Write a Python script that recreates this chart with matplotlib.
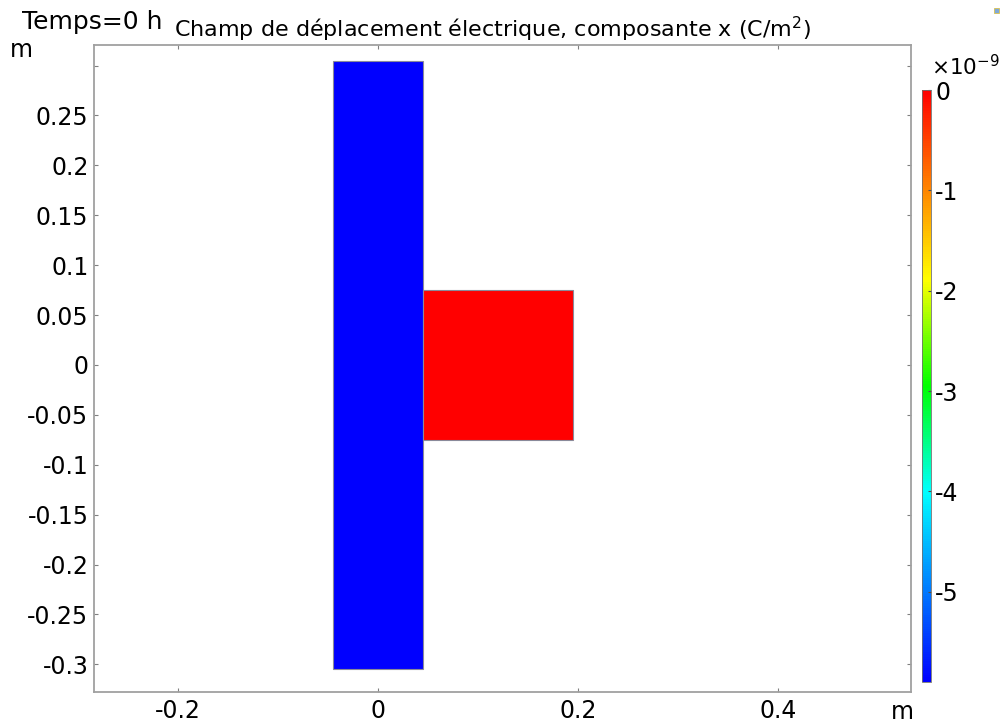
import matplotlib
matplotlib.use("Agg")
import matplotlib.pyplot as plt
import numpy as np
from matplotlib.patches import Rectangle
from matplotlib.colors import LinearSegmentedColormap, Normalize
from matplotlib.colorbar import ColorbarBase

plt.rcParams['font.family'] = 'DejaVu Sans'
plt.rcParams['mathtext.default'] = 'regular'

# domaines (x0, x1, y0, y1) en m et valeur de Dx en C/m^2
dom_names = ['bloc_gauche', 'bloc_droit']
dom_x0 = [-0.045, 0.045]
dom_x1 = [0.045, 0.195]
dom_y0 = [-0.305, -0.075]
dom_y1 = [0.305, 0.075]
dom_dx = [-5.9e-9, 0.0]

x_ticks = [-0.2, 0, 0.2, 0.4]
y_ticks = [-0.3, -0.25, -0.2, -0.15, -0.1, -0.05, 0, 0.05, 0.1, 0.15, 0.2, 0.25]
cb_ticks = [0, -1, -2, -3, -4, -5]

vmin, vmax = -5.9e-9, 0.0

# rainbow facon comsol
rainbow = LinearSegmentedColormap.from_list(
    'rainbow_comsol',
    [(0.0, (0, 0, 1)), (0.32, (0, 1, 1)), (0.5, (0, 1, 0)),
     (0.68, (1, 1, 0)), (0.84, (1, 0.5, 0)), (1.0, (1, 0, 0))])
norm = Normalize(vmin=vmin, vmax=vmax)

W, H = 1002, 724
fig = plt.figure(figsize=(W / 100, H / 100), dpi=100)

def fx(px):
    return px / W

def fy(py):
    return 1 - py / H

ax = fig.add_axes([fx(94), fy(692), fx(911) - fx(94), fy(45) - fy(692)])
ax.set_xlim(-0.284, 0.533)
ax.set_ylim(-0.3277, 0.3206)

for i in range(len(dom_names)):
    r = Rectangle((dom_x0[i], dom_y0[i]), dom_x1[i] - dom_x0[i], dom_y1[i] - dom_y0[i],
                  facecolor=rainbow(norm(dom_dx[i])), edgecolor='#8a8a9a', linewidth=0.8)
    ax.add_patch(r)

gray = '#a0a0a0'
for s in ax.spines.values():
    s.set_color(gray)
    s.set_linewidth(1.3)

ax.set_xticks(x_ticks)
ax.set_xticklabels(['-0.2', '0', '0.2', '0.4'])
ax.set_yticks(y_ticks + [0.3])
ax.set_yticklabels([('%g' % v) for v in y_ticks] + [''])
ax.tick_params(direction='in', length=3, width=0.8, color='#808080',
               top=True, right=True, labelsize=17, pad=4)
ax.tick_params(axis='x', pad=5)

# unites
fig.text(fx(902), fy(712), 'm', fontsize=17, ha='center', va='center')
fig.text(fx(21), fy(50), 'm', fontsize=17, ha='center', va='center')

# titres
fig.text(fx(22), fy(29), 'Temps=0 h', fontsize=18, ha='left', va='baseline')
fig.text(fx(174), fy(37), 'Champ de déplacement électrique, composante x (C/m$^2$)',
         fontsize=16, ha='left', va='baseline')

# barre de couleur
cax = fig.add_axes([fx(922), fy(682), fx(931) - fx(922), fy(90) - fy(682)])
cb = ColorbarBase(cax, cmap=rainbow, norm=norm, orientation='vertical')
cb.outline.set_edgecolor('#707070')
cb.outline.set_linewidth(0.6)
cb.set_ticks([t * 1e-9 for t in cb_ticks])
cb.set_ticklabels(['%d' % t for t in cb_ticks])
cax.tick_params(direction='in', length=2, width=0.8, color='#505050',
                labelsize=17, pad=3)
fig.text(fx(931), fy(67), r'$\times10^{-9}$', fontsize=15.5, ha='left', va='center')

# petite icone en haut a droite
fig.patches.append(Rectangle((fx(994), fy(13)), fx(5), fy(0) - fy(5),
                             transform=fig.transFigure, facecolor='#7fa8d8',
                             edgecolor='#d8c050', linewidth=0.6))

fig.savefig('out.png', dpi=100)
